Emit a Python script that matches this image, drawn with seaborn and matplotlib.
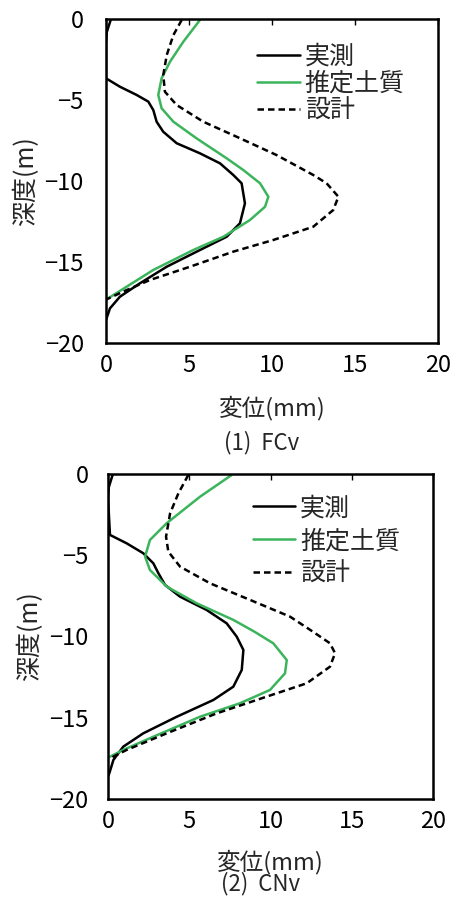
import matplotlib
matplotlib.use("Agg")
import matplotlib.pyplot as plt
import pandas as pd
import seaborn as sns

sns.set_theme(style="white")
plt.rcParams["font.family"] = ["Noto Sans CJK JP", "DejaVu Sans"]

GREEN = "#3cb45c"

# (1) FCv  -- 変位 (mm) vs 深度 (m)
fc_meas_x = [0.3, 0.05, 0.0, 0.0, 0.84, 1.85, 2.55, 2.85, 3.05, 3.45, 4.26, 5.66, 6.87, 7.67, 8.17, 8.37, 8.07, 7.27, 5.66, 3.66, 2.05, 0.84, 0.24, 0.0]
fc_meas_y = [0.0, -0.8, -1.5, -3.66, -4.18, -4.69, -5.1, -5.62, -6.34, -6.96, -7.67, -8.29, -8.91, -9.63, -10.14, -11.38, -12.61, -13.44, -14.26, -15.29, -16.31, -17.14, -17.86, -18.58]
fc_soil_x = [5.66, 4.66, 3.86, 3.35, 3.15, 3.35, 4.06, 5.46, 7.27, 8.27, 9.28, 9.78, 9.58, 8.67, 7.07, 5.26, 2.85, 1.25, 0.04]
fc_soil_y = [-0.06, -1.4, -2.63, -3.66, -4.69, -5.51, -6.34, -7.37, -8.6, -9.32, -10.14, -10.97, -11.59, -12.41, -13.44, -14.26, -15.49, -16.52, -17.3]
fc_design_x = [4.56, 4.06, 3.66, 3.45, 3.55, 4.26, 5.86, 8.07, 10.28, 12.49, 13.29, 14.0, 13.69, 12.49, 10.08, 7.67, 5.06, 2.65, 1.25, 0.04]
fc_design_y = [-0.06, -0.99, -2.22, -3.46, -4.49, -5.31, -6.34, -7.36, -8.4, -9.63, -10.14, -10.97, -11.79, -12.82, -13.64, -14.36, -15.29, -16.11, -16.73, -17.3]

# (2) CNv
cn_meas_x = [0.3, 0.05, 0.0, 0.12, 1.15, 2.17, 2.79, 3.1, 3.51, 4.43, 6.07, 7.3, 7.92, 8.33, 8.23, 7.71, 6.48, 4.23, 2.17, 0.94, 0.33, 0.08, 0.0]
cn_meas_y = [0.0, -0.8, -1.5, -3.75, -4.27, -4.88, -5.5, -6.11, -6.83, -7.55, -8.37, -9.19, -10.01, -10.83, -12.06, -13.09, -13.91, -14.94, -15.96, -16.78, -17.6, -18.42, -18.6]
cn_soil_x = [7.61, 5.66, 3.61, 2.58, 2.28, 2.58, 3.61, 5.46, 7.71, 9.0, 10.17, 11.0, 10.89, 9.97, 8.12, 5.66, 2.79, 0.94, 0.12]
cn_soil_y = [-0.06, -1.4, -3.03, -4.06, -5.09, -5.91, -6.93, -7.96, -8.98, -9.7, -10.42, -11.45, -12.27, -13.29, -14.11, -14.94, -16.17, -16.98, -17.4]
cn_design_x = [4.94, 4.33, 3.82, 3.57, 3.71, 4.43, 6.28, 8.74, 11.2, 12.6, 13.66, 13.97, 13.66, 12.23, 9.77, 6.69, 3.61, 1.15, 0.12]
cn_design_y = [-0.06, -1.19, -2.42, -3.86, -4.78, -5.7, -6.73, -7.75, -8.78, -9.7, -10.42, -11.03, -11.86, -12.88, -13.7, -14.73, -15.96, -16.98, -17.5]

x_ticks = [0, 5, 10, 15, 20]
y_ticks = [0, -5, -10, -15, -20]
labels = ["実測", "推定土質", "設計"]

panels = [
    {
        "rect": [0.2345, 0.6176, 0.7345, 0.3612],
        "series": [(fc_meas_x, fc_meas_y), (fc_soil_x, fc_soil_y), (fc_design_x, fc_design_y)],
        "caption": "(1)  FCv",
        "xlabel_y": 408,
        "caption_y": 443,
        "ypad": 16,
        "leg_anchor": (0.455, 0.925),
        "leg_space": 0.05,
    },
    {
        "rect": [0.239, 0.1093, 0.719, 0.3623],
        "series": [(cn_meas_x, cn_meas_y), (cn_soil_x, cn_soil_y), (cn_design_x, cn_design_y)],
        "caption": "(2)  CNv",
        "xlabel_y": 862,
        "caption_y": 884,
        "ypad": 14,
        "leg_anchor": (0.445, 0.935),
        "leg_space": 0.28,
    },
]

styles = [
    dict(color="black", linestyle="-"),
    dict(color=GREEN, linestyle="-"),
    dict(color="black", linestyle=(0, (2.6, 1.6))),
]

W, H = 452, 897
fig = plt.figure(figsize=(W / 100, H / 100), dpi=100)

for p in panels:
    ax = fig.add_axes(p["rect"])
    for (xs, ys), lab, st in zip(p["series"], labels, styles):
        df = pd.DataFrame({"変位": xs, "深度": ys})
        sns.lineplot(data=df, x="変位", y="深度", sort=False, estimator=None,
                     ax=ax, label=lab, linewidth=1.8, **st)
    ax.set_xlim(0, 20)
    ax.set_ylim(-20, 0)
    ax.set_xticks(x_ticks)
    ax.set_yticks(y_ticks)
    ax.set_xticklabels([str(t) for t in x_ticks], fontsize=17)
    ax.set_yticklabels([str(t).replace("-", "\u2212") for t in y_ticks], fontsize=17)
    ax.tick_params(axis="x", direction="in", length=4, width=1, top=True, bottom=False, pad=8, colors="black")
    ax.tick_params(axis="y", direction="in", length=0, pad=p["ypad"], colors="black")
    for s in ax.spines.values():
        s.set_color("black")
        s.set_linewidth(1.8)
    ax.set_xlabel("")
    ax.set_ylabel("深度(m)", fontsize=18, labelpad=4)
    ax.legend(loc="upper left", bbox_to_anchor=p["leg_anchor"], frameon=False,
              fontsize=18, handlelength=1.7, handletextpad=0.2, labelspacing=p["leg_space"],
              borderaxespad=0.0, borderpad=0.0)
    bb = ax.get_position()
    fig.text(bb.x0 + bb.width * 0.5, 1 - p["xlabel_y"] / H, "変位(mm)", ha="center", va="center", fontsize=17)
    fig.text(bb.x0 + bb.width * 0.47, 1 - p["caption_y"] / H, p["caption"], ha="center", va="center", fontsize=16)

fig.savefig("out.png", dpi=100)
